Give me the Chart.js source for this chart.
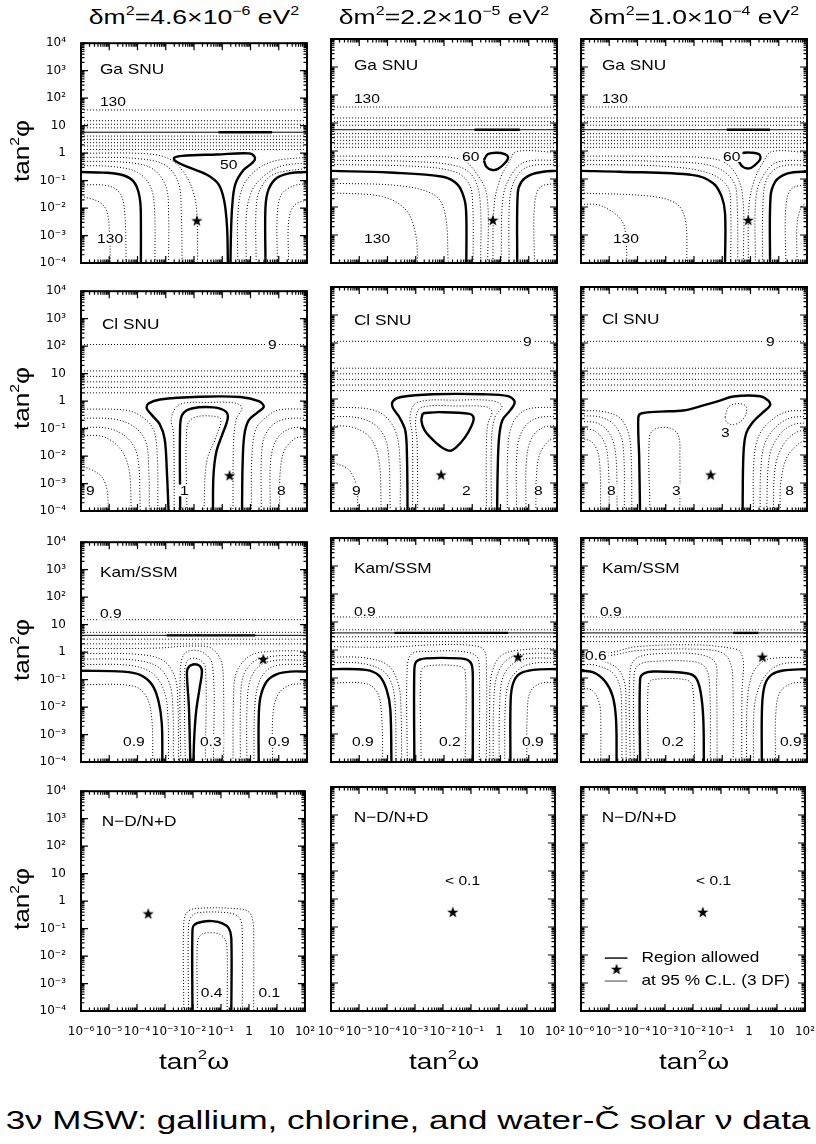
<!DOCTYPE html>
<html>
<head>
<meta charset="utf-8">
<script src="https://cdn.jsdelivr.net/npm/chart.js@4.4.0/dist/chart.umd.min.js"></script>
<style>
  body { margin: 0; background: #fff; }
  #page { position: relative; width: 816px; height: 1144px; overflow: hidden; background: #fff;
          font-family: "Liberation Sans", Arial, sans-serif; color: #000; }
  .panel { position: absolute; }
  .txt { position: absolute; white-space: nowrap; line-height: 1; }
  .txt sup { font-size: 0.6em; vertical-align: 0.75em; line-height: 0; }
</style>
</head>
<body>
<div id="page"></div>
<script>
// all contour coordinates are log10(tan^2 omega), log10(tan^2 phi)

const xTickLabels = ['10⁻⁶', '10⁻⁵', '10⁻⁴', '10⁻³', '10⁻²', '10⁻¹', '1', '10', '10²'];
const yTickLabels = ['10⁻⁴', '10⁻³', '10⁻²', '10⁻¹', '1', '10', '10²', '10³', '10⁴'];
const massTitles = [
  'δm<sup>2</sup>=4.6×10<sup>−6</sup> eV<sup>2</sup>',
  'δm<sup>2</sup>=2.2×10<sup>−5</sup> eV<sup>2</sup>',
  'δm<sup>2</sup>=1.0×10<sup>−4</sup> eV<sup>2</sup>'
];

// ---------- Ga SNU ----------
const gaLevels = [1.57, 1.18, 1.05, 0.92, 0.62, 0.5, 0.38, 0.26, 0.13];
const gaSolid = 0.76;

const ga1Allowed = [
  [[-6,-0.69],[-5.2,-0.71],[-4.6,-0.78],[-4.2,-0.97],[-4.0,-1.3],[-3.9,-1.8],[-3.88,-2.5],[-3.88,-4]],
  [[-0.80,-4],[-0.83,-2.69],[-0.93,-1.74],[-1.13,-1.14],[-1.54,-0.79],[-2.25,-0.49],[-2.66,-0.29],[-2.70,-0.17],[-2.42,-0.10],[-1.19,-0.05],[-0.06,-0.01],[0.14,-0.13],[0.11,-0.31],[-0.24,-0.61],[-0.54,-1.14],[-0.65,-1.98],[-0.69,-2.93],[-0.71,-4]],
  [[0.53,-4],[0.53,-1.98],[0.64,-1.32],[0.94,-0.90],[1.41,-0.73],[2.0,-0.69]],
  [[-1.13,0.76],[0.76,0.76]]
];
const ga1Dotted = [
  [[-6,-1.56],[-5.32,-1.80],[-5.08,-2.15],[-4.99,-2.93],[-4.96,-4]],
  [[-6,-1.15],[-5.0,-1.2],[-4.6,-1.5],[-4.45,-2.2],[-4.4,-4]],
  [[-6,-0.45],[-4.8,-0.5],[-4.0,-0.7],[-3.55,-1.2],[-3.4,-2.0],[-3.38,-4]],
  [[-6,-0.3],[-4.5,-0.33],[-3.5,-0.55],[-3.0,-1.2],[-2.9,-2.2],[-2.9,-4]],
  [[-6,-0.15],[-4.0,-0.2],[-3.0,-0.45],[-2.55,-1.1],[-2.45,-2.2],[-2.42,-4]],
  [[-6,0.0],[-3.6,-0.03],[-2.8,-0.25],[-2.3,-0.8],[-2.0,-1.5],[-1.89,-2.33],[-1.87,-4]],
  [[-0.45,-4],[-0.45,-2.3],[-0.3,-1.3],[0.1,-0.7],[0.8,-0.3],[2,-0.15]],
  [[-0.15,-4],[-0.15,-2.3],[0.0,-1.5],[0.3,-1.0],[1.0,-0.5],[2,-0.35]],
  [[0.2,-4],[0.2,-2.0],[0.35,-1.3],[0.8,-0.78],[2,-0.55]],
  [[0.95,-4],[0.95,-2.2],[1.1,-1.5],[1.5,-1.2],[2,-1.1]],
  [[1.35,-4],[1.35,-2.5],[1.55,-1.9],[2,-1.7]]
];
const ga1Star = [-1.9, -2.45];
const ga1Labels = [
  {t: 'Ga SNU', x: -5.33, y: 3.07, big: true},
  {t: '130', x: -5.33, y: 1.89},
  {t: '50', x: -1.08, y: -0.43},
  {t: '130', x: -5.43, y: -3.11}
];

const ga2Allowed = [
  [[-6,-0.71],[-3.94,-0.77],[-2.04,-0.92],[-1.51,-1.21],[-1.27,-1.75],[-1.21,-2.35],[-1.21,-4]],
  [[0.59,-4],[0.61,-1.51],[0.74,-1.1],[1.04,-0.86],[1.51,-0.74],[2,-0.71]],
  [[-0.59,-0.32],[-0.44,-0.11],[-0.15,-0.06],[0.15,-0.11],[0.27,-0.23],[0.15,-0.44],[-0.09,-0.64],[-0.29,-0.68],[-0.5,-0.56],[-0.59,-0.32]],
  [[-0.92,0.76],[0.68,0.76]]
];
const ga2Dotted = [
  [[-6,-1.49],[-4.18,-1.63],[-3.35,-2.1],[-3.01,-2.94],[-2.93,-4]],
  [[-6,-1.15],[-3.5,-1.25],[-2.3,-1.6],[-1.95,-2.3],[-1.85,-4]],
  [[-6,-0.48],[-3.0,-0.55],[-1.6,-0.75],[-1.1,-1.2],[-0.98,-2.0],[-0.97,-4]],
  [[-6,-0.33],[-3.0,-0.38],[-1.5,-0.55],[-0.95,-0.95],[-0.72,-1.8],[-0.7,-4]],
  [[-6,-0.18],[-3.0,-0.2],[-1.4,-0.3],[-0.85,-0.8],[-0.48,-1.6],[-0.45,-4]],
  [[2,-0.05],[0.56,-0.02],[0.3,-0.4],[-0.03,-1.04],[-0.23,-1.99],[-0.27,-4]],
  [[2,-0.33],[0.9,-0.38],[0.45,-0.75],[0.1,-1.6],[0.02,-4]],
  [[2,-0.48],[1.0,-0.55],[0.55,-0.95],[0.33,-1.7],[0.3,-4]],
  [[2,-1.15],[1.4,-1.3],[1.2,-2.0],[1.2,-4]]
];
const ga2Star = [-0.27, -2.46];
const ga2Labels = [
  {t: 'Ga SNU', x: -5.19, y: 3.07, big: true},
  {t: '130', x: -5.19, y: 1.89},
  {t: '60', x: -1.36, y: -0.18},
  {t: '130', x: -4.83, y: -3.14}
];

const ga3Allowed = [
  [[-6,-0.71],[-4.62,-0.74],[-2.02,-0.86],[-1.32,-1.15],[-1.02,-1.63],[-0.9,-2.23],[-0.9,-4]],
  [[0.69,-4],[0.71,-1.63],[0.87,-1.1],[1.16,-0.86],[1.52,-0.76],[2,-0.74]],
  [[-0.47,-0.26],[-0.31,-0.08],[0.04,-0.06],[0.31,-0.12],[0.34,-0.3],[0.16,-0.5],[-0.04,-0.62],[-0.28,-0.56],[-0.47,-0.26]],
  [[-0.84,0.76],[0.69,0.76]]
];
const ga3Dotted = [
  [[-6,-1.9],[-5.3,-1.95],[-4.55,-2.5],[-4.4,-3.3],[-4.38,-4]],
  [[-6,-1.5],[-3.5,-1.62],[-2.6,-1.9],[-2.3,-2.5],[-2.25,-4]],
  [[-6,-0.48],[-3.0,-0.55],[-1.45,-0.8],[-0.8,-1.3],[-0.7,-2.2],[-0.7,-4]],
  [[-6,-0.33],[-3.0,-0.38],[-1.3,-0.55],[-0.6,-1.1],[-0.47,-2.0],[-0.45,-4]],
  [[-6,-0.18],[-3.0,-0.2],[-1.2,-0.3],[-0.6,-0.7],[-0.28,-1.6],[-0.25,-4]],
  [[2,-0.05],[0.75,-0.02],[0.45,-0.4],[0.15,-1.0],[-0.05,-1.9],[-0.08,-4]],
  [[2,-0.33],[0.95,-0.4],[0.5,-0.8],[0.2,-1.6],[0.17,-4]],
  [[2,-0.5],[1.05,-0.55],[0.6,-0.95],[0.45,-1.7],[0.42,-4]],
  [[2,-1.2],[1.45,-1.35],[1.25,-2.0],[1.25,-4]],
  [[2,-1.85],[1.8,-2.0],[1.65,-2.6],[1.65,-4]]
];
const ga3Star = [-0.08, -2.46];
const ga3Labels = [
  {t: 'Ga SNU', x: -5.26, y: 3.07, big: true},
  {t: '130', x: -5.26, y: 1.89},
  {t: '60', x: -0.97, y: -0.18},
  {t: '130', x: -4.87, y: -3.14}
];

// ---------- Cl SNU ----------
const clLevels = [2.06, 1.1, 0.9, 0.7, 0.5, 0.3];

const cl1Allowed = [
  [[-2.90,-4],[-2.96,-2.57],[-3.04,-1.37],[-3.22,-0.83],[-3.49,-0.51],[-3.67,-0.27],[-3.61,-0.09],[-3.20,0.06],[-1.78,0.16],[-0.36,0.15],[0.29,0.0],[0.47,-0.20],[0.25,-0.41],[-0.07,-0.71],[-0.22,-1.25],[-0.28,-2.33],[-0.30,-4]],
  [[-2.49,-4],[-2.49,-0.89],[-2.40,-0.47],[-2.08,-0.27],[-1.31,-0.23],[-0.86,-0.39],[-0.81,-0.65],[-1.01,-1.25],[-1.21,-1.85],[-1.31,-2.69],[-1.33,-4]]
];
const cl1Dotted = [
  [[-6,-0.29],[-4.5,-0.32],[-3.95,-0.5],[-3.45,-1.0],[-3.3,-2.0],[-3.28,-4]],
  [[-6,-0.62],[-4.8,-0.66],[-4.1,-0.95],[-3.7,-1.5],[-3.6,-2.5],[-3.58,-4]],
  [[-6,-0.95],[-5.0,-1.0],[-4.35,-1.35],[-4.0,-2.0],[-3.9,-4]],
  [[-6,-1.25],[-5.2,-1.3],[-4.6,-1.75],[-4.3,-2.5],[-4.22,-4]],
  [[-6,-2.33],[-5.33,-2.69],[-5.09,-3.17],[-5.03,-4]],
  [[-2.7,-4],[-2.72,-1.2],[-2.8,-0.6],[-2.5,-0.12],[-1.5,-0.05],[-0.55,-0.07],[-0.3,-0.25],[-0.5,-0.65],[-0.6,-1.5],[-0.62,-4]],
  [[-2.25,-4],[-2.25,-0.95],[-2.0,-0.6],[-1.3,-0.55],[-1.05,-0.67],[-1.2,-1.25],[-1.55,-2.2],[-1.65,-4]],
  [[2,-0.29],[1.0,-0.32],[0.6,-0.55],[0.2,-1.0],[0.05,-2.0],[0.03,-4]],
  [[2,-0.62],[1.2,-0.66],[0.7,-0.95],[0.42,-1.6],[0.38,-4]],
  [[2,-0.95],[1.4,-1.0],[0.95,-1.35],[0.72,-2.1],[0.7,-4]],
  [[2,-1.3],[1.6,-1.35],[1.2,-1.8],[1.05,-2.6],[1.03,-4]]
];
const cl1Star = [-0.74, -2.7];
const cl1Labels = [
  {t: 'Cl SNU', x: -5.26, y: 2.82, big: true},
  {t: '9', x: 0.62, y: 2.07},
  {t: '9', x: -5.82, y: -3.25},
  {t: '1', x: -2.5, y: -3.25},
  {t: '8', x: 0.94, y: -3.25}
];

const cl2Allowed = [
  [[-3.29,-4],[-3.31,-2.09],[-3.37,-1.13],[-3.58,-0.65],[-3.82,-0.29],[-3.80,-0.07],[-3.52,0.07],[-2.40,0.17],[-0.62,0.17],[0.27,0.10],[0.50,-0.10],[0.35,-0.40],[0.07,-0.75],[-0.05,-1.37],[-0.10,-2.57],[-0.12,-4]],
  [[-2.75,-0.51],[-2.16,-0.47],[-1.09,-0.53],[-0.95,-0.68],[-1.04,-0.99],[-1.27,-1.39],[-1.57,-1.73],[-1.78,-1.85],[-2.07,-1.73],[-2.42,-1.43],[-2.69,-1.11],[-2.80,-0.77],[-2.75,-0.51]]
];
const cl2Dotted = [
  [[-6,-0.3],[-4.7,-0.35],[-4.1,-0.6],[-3.7,-1.2],[-3.56,-2.2],[-3.55,-4]],
  [[-6,-0.62],[-5.0,-0.68],[-4.35,-1.0],[-4.0,-1.7],[-3.9,-4]],
  [[-6,-0.95],[-5.2,-1.02],[-4.6,-1.4],[-4.3,-2.2],[-4.22,-4]],
  [[-6,-2.25],[-5.4,-2.5],[-5.1,-3.1],[-5.05,-4]],
  [[-3.11,-4],[-3.12,-1.3],[-3.2,-0.6],[-2.95,-0.12],[-1.5,-0.04],[-0.3,-0.06],[0.05,-0.25],[-0.2,-0.65],[-0.32,-1.5],[-0.32,-4]],
  [[-2.93,-4],[-2.95,-1.6],[-3.0,-0.7],[-2.8,-0.3],[-1.5,-0.25],[-0.5,-0.28],[-0.3,-0.45],[-0.45,-0.9],[-0.5,-1.7],[-0.5,-4]],
  [[2,-0.3],[1.1,-0.33],[0.65,-0.55],[0.35,-1.1],[0.25,-2.0],[0.24,-4]],
  [[2,-0.62],[1.3,-0.68],[0.85,-1.0],[0.6,-1.7],[0.56,-4]],
  [[2,-0.95],[1.5,-1.02],[1.1,-1.4],[0.92,-2.2],[0.9,-4]],
  [[2,-1.4],[1.7,-1.5],[1.38,-2.0],[1.27,-2.8],[1.25,-4]]
];
const cl2Star = [-2.1, -2.7];
const cl2Labels = [
  {t: 'Cl SNU', x: -5.19, y: 2.82, big: true},
  {t: '9', x: 0.8, y: 2.07},
  {t: '9', x: -5.26, y: -3.25},
  {t: '2', x: -1.36, y: -3.25},
  {t: '8', x: 1.19, y: -3.25}
];

const cl3Allowed = [
  [[-3.91,-4],[-3.94,-2.09],[-3.97,-0.65],[-3.85,-0.51],[-3.20,-0.45],[-2.38,-0.41],[-1.67,-0.23],[-1.08,-0.06],[-0.61,0.09],[0.34,0.10],[0.63,-0.06],[0.69,-0.23],[0.45,-0.47],[0.08,-0.83],[-0.16,-1.25],[-0.25,-1.97],[-0.28,-4]]
];
const cl3Dotted = [
  [[-0.90,-0.65],[-0.78,-0.29],[-0.49,-0.17],[-0.19,-0.23],[-0.14,-0.47],[-0.31,-0.77],[-0.61,-0.92],[-0.84,-0.83],[-0.90,-0.65]],
  [[-3.56,-4],[-3.58,-1.37],[-3.38,-1.07],[-2.85,-1.04],[-2.55,-1.31],[-2.5,-2.09],[-2.5,-4]],
  [[-6,-0.42],[-5.2,-0.45],[-4.6,-0.7],[-4.3,-1.3],[-4.22,-2.2],[-4.2,-4]],
  [[-6,-0.6],[-5.3,-0.65],[-4.8,-0.95],[-4.52,-1.6],[-4.46,-4]],
  [[-6,-0.8],[-5.4,-0.87],[-4.98,-1.25],[-4.77,-2.0],[-4.72,-4]],
  [[-6,-1.05],[-5.5,-1.15],[-5.15,-1.6],[-5.03,-2.4],[-5.0,-4]],
  [[-6,-1.4],[-5.6,-1.55],[-5.36,-2.1],[-5.3,-4]],
  [[2,-0.42],[1.3,-0.45],[0.75,-0.75],[0.3,-1.3],[0.12,-2.2],[0.1,-4]],
  [[2,-0.62],[1.4,-0.68],[0.9,-1.0],[0.5,-1.6],[0.36,-2.6],[0.34,-4]],
  [[2,-0.85],[1.5,-0.92],[1.05,-1.25],[0.68,-2.0],[0.57,-4]],
  [[2,-1.1],[1.6,-1.2],[1.18,-1.6],[0.88,-2.4],[0.81,-4]],
  [[2,-1.45],[1.7,-1.6],[1.28,-2.1],[1.07,-3.0],[1.05,-4]]
];
const cl3Star = [-1.41, -2.7];
const cl3Labels = [
  {t: 'Cl SNU', x: -5.26, y: 2.85, big: true},
  {t: '9', x: 0.55, y: 2.07},
  {t: '3', x: -1.04, y: -1.18},
  {t: '8', x: -5.08, y: -3.25},
  {t: '3', x: -2.78, y: -3.25},
  {t: '8', x: 1.23, y: -3.25}
];

// ---------- Kam/SSM ----------
const kamLevels = [1.18, 0.72, 0.47, 0.3];
const kamSolid = 0.61;

const kam1Allowed = [
  [[-6,-0.68],[-4.50,-0.71],[-3.91,-0.83],[-3.49,-1.18],[-3.26,-1.77],[-3.14,-2.60],[-3.12,-4]],
  [[-2.13,-4],[-2.18,-2.01],[-2.25,-0.83],[-2.22,-0.59],[-2.04,-0.45],[-1.80,-0.50],[-1.72,-0.71],[-1.80,-1.30],[-1.92,-2.12],[-1.99,-3.07],[-2.02,-4]],
  [[0.29,-4],[0.29,-2.48],[0.35,-1.65],[0.58,-1.06],[0.94,-0.80],[1.41,-0.71],[2.0,-0.71]],
  [[-2.96,0.61],[0.17,0.61]]
];
const kam1Dotted = [
  [[-6,-1.18],[-4.14,-1.24],[-3.67,-1.65],[-3.49,-2.48],[-3.46,-4]],
  [[-6,-0.45],[-4.3,-0.48],[-3.5,-0.75],[-3.08,-1.35],[-2.93,-2.2],[-2.9,-4]],
  [[-6,-0.25],[-4.2,-0.28],[-3.3,-0.52],[-2.88,-1.1],[-2.75,-2.0],[-2.73,-4]],
  [[-6,-0.05],[-4.0,-0.08],[-3.1,-0.3],[-2.68,-0.9],[-2.57,-1.9],[-2.55,-4]],
  [[-2.31,-4],[-2.33,-0.7],[-2.2,-0.28],[-1.85,-0.25],[-1.6,-0.55],[-1.6,-4]],
  [[-2.47,-4],[-2.48,-0.6],[-2.3,-0.02],[-1.75,0.02],[-1.35,-0.45],[-1.31,-4]],
  [[-6,0.13],[-4.5,0.13],[-3.2,0.15],[-2.6,0.2],[-2.0,0.22],[-1.4,0.15],[-1.05,-0.3],[-0.96,-1.0],[-0.95,-4]],
  [[2,-0.45],[1.0,-0.47],[0.6,-0.65],[0.3,-1.1],[0.15,-2.0],[0.12,-4]],
  [[2,-0.3],[0.9,-0.3],[0.35,-0.48],[0.0,-0.98],[-0.12,-1.9],[-0.13,-4]],
  [[2,-0.12],[0.8,-0.15],[0.15,-0.32],[-0.25,-0.85],[-0.35,-1.8],[-0.36,-4]],
  [[2,0.05],[0.6,0.02],[-0.05,-0.15],[-0.5,-0.75],[-0.6,-1.7],[-0.62,-4]],
  [[2,-1.15],[1.4,-1.2],[1.0,-1.5],[0.8,-2.2],[0.78,-4]]
];
const kam1Star = [0.45, -0.25];
const kam1Labels = [
  {t: 'Kam/SSM', x: -5.33, y: 2.93, big: true},
  {t: '0.9', x: -5.33, y: 1.39},
  {t: '0.9', x: -4.51, y: -3.25},
  {t: '0.3', x: -1.79, y: -3.25},
  {t: '0.9', x: 0.62, y: -3.25}
];

const kam2Allowed = [
  [[-6,-0.68],[-4.77,-0.71],[-4.29,-0.92],[-4.03,-1.42],[-3.90,-2.12],[-3.86,-4]],
  [[-3.05,-4],[-3.05,-0.70],[-2.97,-0.41],[-2.64,-0.30],[-1.45,-0.30],[-1.12,-0.38],[-1.00,-0.61],[-0.98,-1.30],[-0.98,-4]],
  [[0.35,-4],[0.36,-1.77],[0.45,-1.18],[0.68,-0.85],[1.16,-0.71],[2.0,-0.68]],
  [[-3.76,0.61],[0.27,0.61]]
];
const kam2Dotted = [
  [[-6,-1.18],[-4.77,-1.2],[-4.35,-1.53],[-4.2,-2.48],[-4.17,-4]],
  [[-6,-0.45],[-4.9,-0.48],[-4.15,-0.75],[-3.82,-1.3],[-3.72,-2.2],[-3.7,-4]],
  [[-6,-0.25],[-4.8,-0.28],[-3.98,-0.55],[-3.62,-1.2],[-3.52,-2.2],[-3.5,-4]],
  [[-3.3,-4],[-3.3,-0.6],[-3.12,-0.12],[-2.5,-0.05],[-1.4,-0.05],[-0.85,-0.22],[-0.75,-0.7],[-0.75,-4]],
  [[-6,0.12],[-4.5,0.1],[-3.5,0.12],[-2.5,0.18],[-1.2,0.18],[-0.6,0.02],[-0.5,-0.6],[-0.5,-4]],
  [[-2.81,-4],[-2.81,-0.75],[-2.6,-0.57],[-1.5,-0.57],[-1.25,-0.75],[-1.25,-4]],
  [[2,-0.45],[1.2,-0.47],[0.7,-0.65],[0.3,-1.15],[0.17,-2.0],[0.15,-4]],
  [[2,-0.3],[1.0,-0.3],[0.45,-0.48],[0.08,-1.0],[-0.03,-2.0],[-0.05,-4]],
  [[2,-0.12],[0.9,-0.14],[0.25,-0.33],[-0.12,-0.9],[-0.24,-1.9],[-0.26,-4]],
  [[2,0.05],[0.9,0.02],[0.05,-0.18],[-0.3,-0.8],[-0.38,-1.8],[-0.38,-4]],
  [[2,-1.15],[1.4,-1.2],[1.05,-1.5],[0.95,-2.2],[0.93,-4]]
];
const kam2Star = [0.62, -0.24];
const kam2Labels = [
  {t: 'Kam/SSM', x: -5.19, y: 2.93, big: true},
  {t: '0.9', x: -5.19, y: 1.39},
  {t: '0.9', x: -5.26, y: -3.25},
  {t: '0.2', x: -2.18, y: -3.25},
  {t: '0.9', x: 0.76, y: -3.25}
];

const kam3Allowed = [
  [[-6,-0.74],[-5.56,-0.80],[-5.15,-1.12],[-4.88,-1.65],[-4.76,-2.48],[-4.74,-4]],
  [[-3.91,-4],[-3.91,-1.06],[-3.79,-0.85],[-3.44,-0.77],[-2.26,-0.83],[-1.93,-1.0],[-1.76,-1.53],[-1.67,-2.48],[-1.65,-4]],
  [[0.40,-4],[0.41,-2.0],[0.51,-1.24],[0.75,-0.88],[1.16,-0.73],[2.0,-0.68]],
  [[-0.61,0.61],[0.28,0.61]]
];
const kam3Dotted = [
  [[-6,-1.35],[-5.6,-1.45],[-5.35,-1.9],[-5.3,-2.6],[-5.3,-4]],
  [[-6,-0.52],[-5.5,-0.54],[-4.9,-0.8],[-4.62,-1.3],[-4.56,-2.2],[-4.55,-4]],
  [[-6,-0.32],[-5.4,-0.35],[-4.72,-0.65],[-4.45,-1.2],[-4.41,-2.2],[-4.4,-4]],
  [[-4.12,-4],[-4.12,-0.9],[-3.95,-0.52],[-3.3,-0.4],[-2.0,-0.42],[-1.6,-0.62],[-1.45,-1.2],[-1.42,-4]],
  [[-4.26,-4],[-4.26,-0.7],[-4.0,-0.27],[-3.2,-0.13],[-1.8,-0.16],[-1.25,-0.45],[-1.2,-1.2],[-1.18,-4]],
  [[-6,-0.22],[-5.0,-0.2],[-4.0,-0.02],[-2.0,0.03],[-1.0,-0.1],[-0.7,-0.5],[-0.62,-1.3],[-0.61,-4]],
  [[-6,-0.12],[-5.0,-0.1],[-4.03,0.12],[-1.79,0.18],[-0.6,0.05],[-0.37,-0.05],[-0.25,-0.47],[-0.3,-1.5],[-0.31,-4]],
  [[-3.62,-4],[-3.62,-1.25],[-3.45,-1.06],[-2.3,-1.06],[-2.05,-1.3],[-1.98,-4]],
  [[2,-0.45],[1.2,-0.48],[0.75,-0.68],[0.38,-1.15],[0.14,-2.0],[0.1,-4]],
  [[2,-0.28],[1.0,-0.28],[0.45,-0.4],[0.05,-0.9],[-0.12,-2.0],[-0.14,-4]],
  [[2,-1.15],[1.45,-1.2],[1.05,-1.5],[0.9,-2.2],[0.88,-4]]
];
const kam3Star = [0.42, -0.24];
const kam3Labels = [
  {t: 'Kam/SSM', x: -5.26, y: 2.93, big: true},
  {t: '0.9', x: -5.33, y: 1.39},
  {t: '0.6', x: -5.86, y: -0.21},
  {t: '0.2', x: -3.13, y: -3.25},
  {t: '0.9', x: 1.04, y: -3.25}
];

// ---------- N-D/N+D ----------
const nd1Allowed = [
  [[-2.02,-4],[-2.02,-1.11],[-1.96,-0.87],[-1.66,-0.75],[-1.31,-0.73],[-0.95,-0.81],[-0.72,-0.99],[-0.63,-1.35],[-0.63,-4]]
];
const nd1Dotted = [
  [[-2.33,-4],[-2.33,-0.8],[-2.2,-0.4],[-1.9,-0.27],[-0.5,-0.27],[0.0,-0.4],[0.15,-0.8],[0.17,-1.5],[0.17,-4]],
  [[-2.16,-4],[-2.16,-0.9],[-2.05,-0.55],[-1.8,-0.42],[-0.8,-0.42],[-0.4,-0.55],[-0.25,-0.9],[-0.24,-4]],
  [[-1.84,-4],[-1.84,-1.5],[-1.7,-1.22],[-1.4,-1.15],[-1.05,-1.2],[-0.85,-1.4],[-0.78,-1.8],[-0.78,-4]]
];
const nd1Star = [-3.6, -0.45];
const nd1Labels = [
  {t: 'N−D/N+D', x: -5.26, y: 2.93, big: true},
  {t: '0.4', x: -1.72, y: -3.32},
  {t: '0.1', x: 0.34, y: -3.32}
];
const nd2Star = [-1.65, -0.46];
const nd2Labels = [
  {t: 'N−D/N+D', x: -5.19, y: 2.93, big: true},
  {t: '< 0.1', x: -1.93, y: 0.68}
];
const nd3Star = [-1.65, -0.46];
const nd3Labels = [
  {t: 'N−D/N+D', x: -5.26, y: 2.93, big: true},
  {t: '< 0.1', x: -1.89, y: 0.68},
  {t: 'Region allowed', x: -3.84, y: -2.07, big: true},
  {t: 'at 95 % C.L. (3 DF)', x: -3.84, y: -2.89, big: true}
];
const nd3KeyLines = [[[-5.15,-2.11],[-4.34,-2.11]], [[-5.15,-2.93],[-4.34,-2.93]]];
const nd3KeyStar = [-4.73, -2.5];

// ---------- layout ----------
const colLeft = [81, 331, 581];
const rowTop = [39, 287, 538, 787];
const PW = 226, PH = 224;
const PAD = {l: 50, t: 10, r: 14, b: 26};
const FONT = '"Liberation Sans", Arial, sans-serif';

const panels = [
  {row: 0, col: 0, levels: gaLevels, solid: gaSolid, allowed: ga1Allowed, dotted: ga1Dotted, star: ga1Star, labels: ga1Labels},
  {row: 0, col: 1, levels: gaLevels, solid: gaSolid, allowed: ga2Allowed, dotted: ga2Dotted, star: ga2Star, labels: ga2Labels},
  {row: 0, col: 2, levels: gaLevels, solid: gaSolid, allowed: ga3Allowed, dotted: ga3Dotted, star: ga3Star, labels: ga3Labels},
  {row: 1, col: 0, levels: clLevels, solid: null, allowed: cl1Allowed, dotted: cl1Dotted, star: cl1Star, labels: cl1Labels},
  {row: 1, col: 1, levels: clLevels, solid: null, allowed: cl2Allowed, dotted: cl2Dotted, star: cl2Star, labels: cl2Labels},
  {row: 1, col: 2, levels: clLevels, solid: null, allowed: cl3Allowed, dotted: cl3Dotted, star: cl3Star, labels: cl3Labels},
  {row: 2, col: 0, levels: kamLevels, solid: kamSolid, allowed: kam1Allowed, dotted: kam1Dotted, star: kam1Star, labels: kam1Labels},
  {row: 2, col: 1, levels: kamLevels, solid: kamSolid, allowed: kam2Allowed, dotted: kam2Dotted, star: kam2Star, labels: kam2Labels},
  {row: 2, col: 2, levels: kamLevels, solid: kamSolid, allowed: kam3Allowed, dotted: kam3Dotted, star: kam3Star, labels: kam3Labels},
  {row: 3, col: 0, levels: [], solid: null, allowed: nd1Allowed, dotted: nd1Dotted, star: nd1Star, labels: nd1Labels},
  {row: 3, col: 1, levels: [], solid: null, allowed: [], dotted: [], star: nd2Star, labels: nd2Labels},
  {row: 3, col: 2, levels: [], solid: null, allowed: [], dotted: [], star: nd3Star, labels: nd3Labels,
   keyLines: nd3KeyLines, keyStar: nd3KeyStar}
];

const page = document.getElementById('page');

function starImage(size) {
  const c = document.createElement('canvas');
  c.width = c.height = size;
  const g = c.getContext('2d');
  g.fillStyle = '#000';
  g.beginPath();
  for (let i = 0; i < 10; i++) {
    const r = i % 2 ? size * 0.2 : size * 0.5;
    const a = -Math.PI / 2 + i * Math.PI / 5;
    g.lineTo(size / 2 + r * Math.cos(a), size / 2 + r * Math.sin(a) + size * 0.05);
  }
  g.closePath();
  g.fill();
  return c;
}
const STAR = starImage(12);

const toXY = pts => pts.map(([x, y]) => ({x, y}));

function lineSet(pts, kind) {
  const base = {data: toXY(pts), showLine: true, pointRadius: 0, fill: false,
                borderColor: '#000', tension: 0.35, borderCapStyle: 'butt'};
  if (kind === 'dot') return {...base, borderWidth: 1, borderDash: [1, 2]};
  if (kind === 'thin') return {...base, borderWidth: 1, tension: 0};
  return {...base, borderWidth: 2.4, borderJoinStyle: 'round'};
}

// inner tick marks and the frame
const frameTicks = {
  id: 'frameTicks',
  afterDraw(chart) {
    const {ctx, chartArea: a, scales: {x, y}} = chart;
    const minor = [2, 3, 4, 5, 6, 7, 8, 9].map(k => Math.log10(k));
    ctx.save();
    ctx.strokeStyle = '#000';
    ctx.lineWidth = 1.2;
    ctx.beginPath();
    for (let d = x.min; d <= x.max; d++) {
      [0, ...minor].forEach(m => {
        const v = d + m;
        if (v > x.max) return;
        const len = m === 0 ? 7 : 3.5;
        const px = x.getPixelForValue(v);
        ctx.moveTo(px, a.bottom); ctx.lineTo(px, a.bottom - len);
        ctx.moveTo(px, a.top); ctx.lineTo(px, a.top + len);
      });
    }
    for (let d = y.min; d <= y.max; d++) {
      [0, ...minor].forEach(m => {
        const v = d + m;
        if (v > y.max) return;
        const len = m === 0 ? 7 : 3.5;
        const py = y.getPixelForValue(v);
        ctx.moveTo(a.left, py); ctx.lineTo(a.left + len, py);
        ctx.moveTo(a.right, py); ctx.lineTo(a.right - len, py);
      });
    }
    ctx.stroke();
    ctx.lineWidth = 2;
    ctx.strokeRect(a.left, a.top, a.right - a.left, a.bottom - a.top);
    ctx.restore();
  }
};

function textPlugin(labels) {
  return {
    id: 'panelText',
    afterDatasetsDraw(chart) {
      const {ctx, scales: {x, y}} = chart;
      ctx.save();
      ctx.textBaseline = 'middle';
      labels.forEach(it => {
        const size = it.big ? 15 : 13;
        const sx = it.big ? 1.15 : 1.2;
        ctx.font = size + 'px ' + FONT;
        const px = x.getPixelForValue(it.x);
        const py = y.getPixelForValue(it.y);
        const w = ctx.measureText(it.t).width * sx;
        ctx.fillStyle = '#fff';
        ctx.fillRect(px - 2, py - size * 0.45, w + 4, size * 0.9);
        ctx.fillStyle = '#000';
        ctx.save();
        ctx.translate(px, py);
        ctx.scale(sx, 1);
        ctx.fillText(it.t, 0, 1);
        ctx.restore();
      });
      ctx.restore();
    }
  };
}

function makePanel(p) {
  const div = document.createElement('div');
  div.className = 'panel';
  div.style.left = (colLeft[p.col] - PAD.l) + 'px';
  div.style.top = (rowTop[p.row] - PAD.t) + 'px';
  const cv = document.createElement('canvas');
  cv.width = PW + PAD.l + PAD.r;
  cv.height = PH + PAD.t + PAD.b;
  cv.style.width = cv.width + 'px';
  cv.style.height = cv.height + 'px';
  div.appendChild(cv);
  page.appendChild(div);

  const datasets = [];
  p.levels.forEach(v => datasets.push(lineSet([[-6, v], [2, v]], 'dot')));
  p.dotted.forEach(l => datasets.push(lineSet(l, 'dot')));
  if (p.solid !== null) datasets.push(lineSet([[-6, p.solid], [2, p.solid]], 'thin'));
  p.allowed.forEach(l => datasets.push(lineSet(l, 'thick')));
  if (p.keyLines) {
    datasets.push({...lineSet(p.keyLines[0], 'thin'), borderWidth: 1.4});
    datasets.push({...lineSet(p.keyLines[1], 'thin'), borderColor: '#444'});
    datasets.push({data: toXY([p.keyStar]), showLine: false, pointStyle: STAR, pointRadius: 6});
  }
  datasets.push({data: toXY([p.star]), showLine: false, pointStyle: STAR, pointRadius: 6});

  const tickFont = {family: '"DejaVu Sans", "Liberation Sans", sans-serif', size: 12};
  new Chart(cv, {
    type: 'scatter',
    data: {datasets},
    options: {
      responsive: false,
      animation: false,
      devicePixelRatio: 1,
      events: [],
      layout: {padding: {left: 0, top: PAD.t, right: PAD.r, bottom: 0}},
      plugins: {legend: {display: false}, tooltip: {enabled: false}},
      scales: {
        x: {
          type: 'linear', min: -6, max: 2,
          grid: {display: false}, border: {display: false},
          ticks: {display: p.row === 3, stepSize: 1, padding: 6, color: '#000', font: tickFont,
                  maxRotation: 0, autoSkip: false, callback: v => xTickLabels[v + 6]},
          afterFit: s => { s.height = PAD.b; }
        },
        y: {
          type: 'linear', min: -4, max: 4,
          grid: {display: false}, border: {display: false},
          ticks: {display: p.col === 0, stepSize: 1, padding: 7, color: '#000', font: tickFont,
                  autoSkip: false, callback: v => yTickLabels[v + 4]},
          afterFit: s => { s.width = PAD.l; }
        }
      }
    },
    plugins: [frameTicks, textPlugin(p.labels)]
  });
}

panels.forEach(makePanel);

// page texts: squeezed/stretched to the widths they take in the picture
function addText(html, cx, cy, size, targetW, rotate) {
  const el = document.createElement('div');
  el.className = 'txt';
  el.innerHTML = html;
  el.style.fontSize = size + 'px';
  page.appendChild(el);
  const k = targetW / el.offsetWidth;
  el.style.left = cx + 'px';
  el.style.top = cy + 'px';
  el.style.transform = 'translate(-50%,-50%)' + (rotate ? ' rotate(-90deg)' : '') + ' scaleX(' + k + ')';
}

const colCenter = [194, 444, 694];
const rowCenter = [151, 398, 650, 899];
massTitles.forEach((t, i) => addText(t, colCenter[i], 17, 20, 210));
rowCenter.forEach(c => addText('tan<sup>2</sup>φ', 22, c, 22, 62, true));
colCenter.forEach(c => addText('tan<sup>2</sup>ω', c, 1062, 22, 70));
addText('3ν MSW: gallium, chlorine, and water-Č solar ν data', 408, 1120, 25, 805);
</script>
</body>
</html>
